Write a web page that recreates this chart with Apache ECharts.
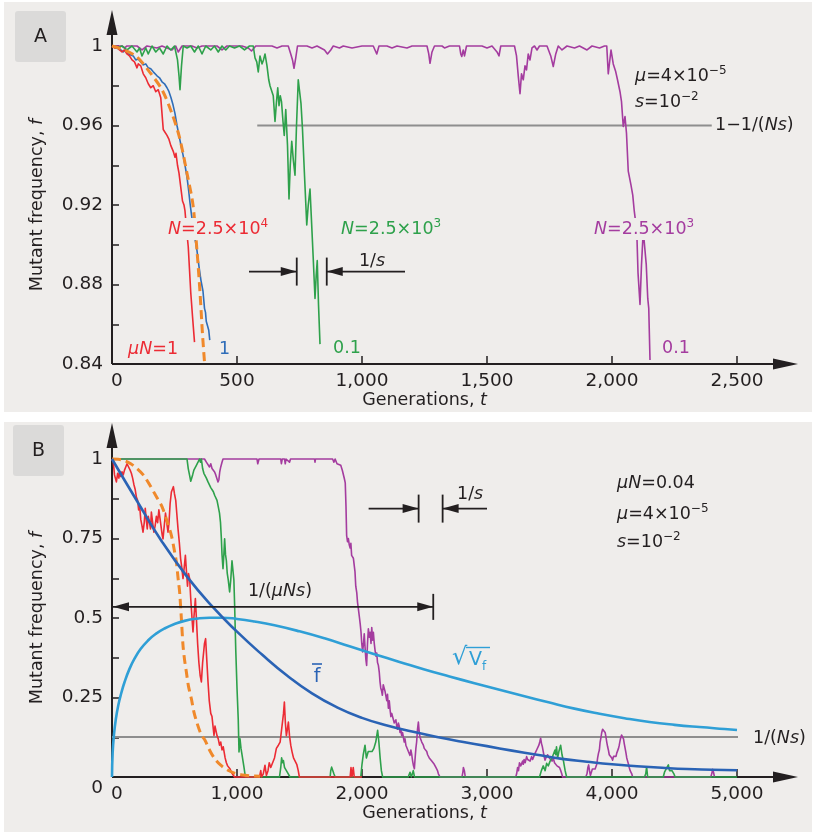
<!DOCTYPE html>
<html>
<head>
<meta charset="utf-8">
<script src="https://cdn.jsdelivr.net/npm/echarts@6/dist/echarts.min.js"></script>
<style>
  html, body { margin: 0; padding: 0; background: #ffffff; }
  #chart { width: 814px; height: 834px; }
</style>
</head>
<body>
<div id="chart"></div>
<script>
// ---------- Panel A: sweeps near fixation (f close to 1) ----------
const xLabelsA = ['0', '500', '1,000', '1,500', '2,000', '2,500'];
const yLabelsA = ['0.84', '0.88', '0.92', '0.96', '1'];

// N = 2.5e4, muN = 1 (red)
const redA = [[0,1],[10,0.999],[20,0.9995],[30,0.998],[40,0.997],[50,0.998],[60,0.996],[70,0.995],[80,0.993],[90,0.992],[100,0.989],[105,0.991],[115,0.99],[125,0.986],[135,0.984],[145,0.981],[155,0.979],[165,0.98],[175,0.977],[185,0.978],[195,0.974],[200,0.966],[205,0.958],[210,0.957],[220,0.955],[228,0.953],[235,0.95],[240,0.951],[245,0.947],[252,0.944],[256,0.946],[262,0.94],[268,0.936],[275,0.929],[282,0.922],[288,0.92],[292,0.917],[298,0.908],[305,0.899],[315,0.876],[322,0.864],[330,0.851]];
// muN = 1 (blue)
const blueA = [[0,1],[15,0.999],[30,0.9985],[45,0.997],[55,0.998],[65,0.996],[75,0.9955],[85,0.995],[95,0.993],[105,0.9935],[115,0.992],[125,0.9905],[135,0.991],[145,0.989],[155,0.9885],[165,0.987],[172,0.9875],[180,0.985],[190,0.984],[200,0.982],[210,0.981],[220,0.979],[228,0.977],[236,0.974],[244,0.9704],[252,0.966],[260,0.96],[268,0.955],[276,0.95],[284,0.9452],[292,0.94],[300,0.934],[306,0.928],[312,0.921],[318,0.915],[325,0.909],[332,0.903],[340,0.897],[348,0.889],[356,0.882],[364,0.8766],[370,0.868],[374,0.866],[377,0.8615],[382,0.862],[387,0.857],[391,0.852]];
// deterministic curve (orange, dashed)
const orangeA = [[0,1],[50,0.998],[100,0.9945],[150,0.987],[200,0.978],[240,0.966],[270,0.954],[300,0.936],[324,0.92],[340,0.897],[352,0.876],[362,0.855],[370,0.841]];
// N = 2.5e3, muN = 0.1 (green)
const greenA = [[0,1],[20,0.999],[40,1],[60,0.998],[80,1],[100,0.997],[110,0.999],[120,0.995],[135,0.999],[145,0.996],[160,1],[175,0.997],[190,0.999],[205,0.996],[220,1],[235,0.998],[250,1],[262,0.993],[268,0.985],[272,0.978],[278,0.99],[285,1],[300,0.999],[315,1],[330,0.997],[345,1],[360,0.996],[375,1],[395,0.998],[410,1],[425,0.997],[440,1],[455,0.998],[470,1],[490,0.999],[510,1],[530,0.998],[550,1],[565,1],[572,0.994],[579,0.992],[585,0.987],[592,0.995],[600,0.991],[606,0.993],[612,0.996],[620,0.99],[627,0.983],[632,0.98],[640,0.979],[645,0.975],[652,0.962],[658,0.972],[663,0.979],[668,0.97],[673,0.975],[678,0.972],[684,0.962],[689,0.955],[695,0.968],[702,0.95],[708,0.923],[713,0.94],[719,0.952],[725,0.943],[732,0.935],[738,0.96],[745,0.983],[750,0.983],[756,0.971],[762,0.958],[770,0.935],[779,0.91],[785,0.92],[792,0.928],[798,0.912],[805,0.893],[812,0.873],[817,0.885],[821,0.892],[826,0.87],[832,0.85]];
// N = 2.5e3, muN = 0.1 (magenta)
const magentaA = [[0,1],[40,1],[50,0.999],[60,1],[100,1],[120,0.998],[140,1],[180,0.999],[200,1],[240,0.998],[255,1],[265,0.997],[272,0.996],[280,1],[320,1],[340,0.999],[360,1],[420,1],[440,0.998],[460,1],[520,1],[545,0.999],[558,0.9975],[565,0.998],[575,1],[640,1],[660,0.999],[680,1],[705,1],[715,0.996],[722,0.993],[728,0.9888],[735,0.994],[742,1],[780,1],[800,0.999],[820,1],[850,0.998],[862,0.996],[869,0.9955],[875,0.998],[885,1],[910,0.999],[925,1],[960,0.999],[1000,1],[1045,1],[1052,0.998],[1059,0.996],[1068,1],[1100,1],[1120,0.999],[1140,1],[1180,0.999],[1200,1],[1260,1],[1267,0.996],[1272,0.9913],[1280,0.997],[1290,1],[1320,1],[1330,0.999],[1350,1],[1390,1],[1395,0.996],[1399,0.9947],[1405,0.998],[1410,0.995],[1418,1],[1480,1],[1500,0.999],[1520,1],[1540,0.997],[1548,0.995],[1555,1],[1610,1],[1618,0.995],[1625,0.985],[1632,0.976],[1638,0.986],[1645,0.983],[1652,0.99],[1658,0.988],[1665,0.996],[1672,0.993],[1680,0.999],[1690,1],[1700,0.998],[1710,1],[1740,1],[1755,0.995],[1765,0.9897],[1775,0.996],[1785,1],[1800,0.998],[1820,1],[1850,0.999],[1870,1],[1900,0.998],[1920,1],[1950,0.999],[1970,1],[1979,1],[1985,0.986],[1996,0.998],[2005,0.991],[2015,0.987],[2022,0.983],[2032,0.977],[2038,0.972],[2045,0.9595],[2052,0.9645],[2058,0.956],[2065,0.937],[2070,0.938],[2076,0.93],[2083,0.925],[2089,0.917],[2094,0.912],[2099,0.907],[2104,0.886],[2112,0.87],[2118,0.89],[2125,0.907],[2132,0.907],[2137,0.89],[2143,0.873],[2147,0.868],[2152,0.842]];
// 1 - 1/(Ns) level
const fixLineA = [[581,0.96],[2399,0.96]];

// ---------- Panel B: full sweeps, mean and spread ----------
const xLabelsB = ['0', '1,000', '2,000', '3,000', '4,000', '5,000'];
const yLabelsB = ['0', '0.25', '0.5', '0.75', '1'];

const redB = [[0,1],[10,0.99],[20,0.95],[35,0.928],[45,0.955],[55,0.94],[61,0.959],[70,0.945],[80,0.96],[90,0.95],[100,0.965],[110,0.975],[120,0.985],[128,0.991],[135,0.985],[145,0.965],[155,0.955],[165,0.94],[175,0.92],[185,0.905],[195,0.88],[205,0.87],[213,0.84],[221,0.854],[230,0.81],[240,0.79],[248,0.77],[258,0.8],[266,0.845],[274,0.81],[282,0.78],[290,0.82],[300,0.8],[308,0.78],[315,0.833],[325,0.8],[335,0.77],[345,0.79],[355,0.82],[365,0.8],[375,0.84],[385,0.81],[395,0.78],[402,0.76],[408,0.749],[418,0.79],[428,0.83],[438,0.8],[448,0.77],[456,0.8],[465,0.86],[475,0.896],[483,0.89],[491,0.913],[500,0.89],[510,0.87],[518,0.83],[528,0.781],[538,0.74],[549,0.686],[558,0.66],[568,0.624],[578,0.66],[587,0.697],[595,0.65],[604,0.6],[612,0.64],[621,0.624],[630,0.56],[640,0.5],[648,0.456],[655,0.5],[667,0.561],[675,0.5],[685,0.42],[695,0.36],[705,0.32],[715,0.299],[725,0.36],[740,0.42],[749,0.435],[758,0.37],[768,0.3],[778,0.24],[790,0.2],[800,0.19],[808,0.16],[816,0.131],[824,0.16],[832,0.145],[840,0.13],[850,0.12],[860,0.1],[870,0.11],[880,0.085],[890,0.095],[896,0.089],[905,0.06],[915,0.045],[925,0.035],[935,0.03],[945,0.025],[955,0.015],[968,0.01],[980,0],[1180,0],[1190,0.02],[1197,0],[1210,0.01],[1224,0.037],[1235,0.005],[1248,0.02],[1258,0.045],[1270,0.03],[1285,0.045],[1300,0.06],[1315,0.09],[1331,0.1],[1345,0.11],[1360,0.16],[1372,0.2],[1379,0.236],[1387,0.17],[1395,0.13],[1403,0.15],[1411,0.173],[1420,0.13],[1430,0.1],[1440,0.08],[1452,0.06],[1465,0.05],[1478,0.04],[1490,0.02],[1499,0],[1905,0],[1912,0.03],[1920,0],[1930,0.03],[1938,0],[2000,0]];
const orangeB = [[0,1],[50,0.999],[100,0.995],[150,0.985],[200,0.97],[250,0.95],[300,0.92],[350,0.885],[400,0.85],[440,0.805],[475,0.76],[500,0.71],[515,0.676],[530,0.62],[541,0.582],[555,0.498],[568,0.414],[580,0.37],[595,0.33],[612,0.285],[635,0.246],[655,0.205],[680,0.17],[712,0.135],[745,0.115],[780,0.085],[821,0.058],[870,0.037],[928,0.021],[980,0.012],[1035,0.007],[1100,0.004],[1185,0.002]];
const greenB = [[0,1],[400,1],[415,0.995],[425,1],[600,1],[610,0.97],[620,0.95],[630,0.93],[637,0.929],[645,0.95],[655,0.965],[665,0.96],[675,0.98],[688,0.99],[700,1],[708,0.99],[715,1],[725,0.97],[735,0.955],[745,0.96],[755,0.94],[768,0.928],[780,0.93],[790,0.91],[800,0.915],[811,0.897],[821,0.886],[830,0.88],[840,0.87],[850,0.85],[860,0.83],[868,0.8],[875,0.749],[880,0.7],[888,0.655],[895,0.7],[901,0.749],[908,0.7],[915,0.68],[922,0.64],[930,0.62],[941,0.582],[950,0.62],[960,0.68],[968,0.686],[975,0.62],[981,0.54],[990,0.4],[1000,0.28],[1010,0.18],[1016,0.079],[1024,0.12],[1032,0.09],[1040,0.07],[1048,0.068],[1056,0.03],[1067,0],[1340,0],[1350,0.03],[1357,0.06],[1365,0.045],[1371,0.052],[1380,0.03],[1395,0.02],[1410,0.01],[1424,0],[1745,0],[1750,0.02],[1757,0.031],[1765,0.03],[1775,0.01],[1785,0],[1990,0],[2000,0.04],[2010,0.07],[2024,0.1],[2035,0.06],[2050,0.08],[2065,0.075],[2080,0.08],[2095,0.09],[2110,0.11],[2125,0.147],[2135,0.11],[2145,0.06],[2155,0.02],[2165,0],[2370,0],[2384,0.015],[2395,0],[2410,0.02],[2420,0],[3420,0],[3435,0.02],[3450,0.035],[3465,0.02],[3477,0.043],[3490,0.035],[3505,0.05],[3520,0.06],[3535,0.065],[3544,0.085],[3550,0.07],[3556,0.095],[3565,0.06],[3575,0.08],[3589,0.1],[3600,0.07],[3612,0.05],[3625,0.02],[3637,0],[4260,0],[4270,0.01],[4277,0.032],[4285,0],[4410,0],[4420,0.015],[4430,0.02],[4440,0.03],[4451,0.038],[4460,0.02],[4470,0.025],[4480,0.02],[4495,0.01],[4505,0],[5000,0]];
const magentaB = [[0,1],[740,1],[755,0.99],[768,0.985],[780,0.975],[790,0.985],[800,0.97],[812,0.965],[821,0.959],[830,0.95],[840,0.945],[848,0.928],[855,0.935],[862,0.96],[870,0.975],[880,0.99],[888,1],[1160,1],[1166,0.985],[1171,0.98],[1176,1],[1350,1],[1355,0.985],[1362,1],[1380,1],[1386,0.985],[1392,1],[1420,0.99],[1428,1],[1620,1],[1624,0.99],[1628,1],[1765,1],[1775,0.99],[1785,1],[1800,0.985],[1815,0.99],[1830,0.98],[1843,0.964],[1852,0.97],[1859,0.938],[1866,0.925],[1872,0.85],[1877,0.76],[1884,0.74],[1891,0.75],[1898,0.73],[1905,0.72],[1911,0.735],[1917,0.697],[1924,0.7],[1931,0.688],[1938,0.665],[1944,0.645],[1950,0.6],[1958,0.58],[1964,0.55],[1971,0.529],[1980,0.5],[1986,0.48],[1992,0.456],[1998,0.42],[2005,0.393],[2012,0.42],[2018,0.45],[2024,0.41],[2031,0.37],[2037,0.351],[2044,0.42],[2051,0.466],[2058,0.44],[2065,0.455],[2072,0.42],[2078,0.47],[2085,0.43],[2091,0.455],[2098,0.42],[2104,0.4],[2111,0.38],[2118,0.39],[2124,0.36],[2131,0.351],[2138,0.33],[2144,0.3],[2150,0.28],[2157,0.27],[2163,0.257],[2170,0.29],[2177,0.28],[2184,0.27],[2191,0.255],[2198,0.24],[2204,0.26],[2211,0.216],[2218,0.24],[2225,0.21],[2231,0.19],[2238,0.2],[2244,0.205],[2251,0.194],[2258,0.17],[2264,0.164],[2271,0.18],[2278,0.16],[2284,0.15],[2291,0.17],[2298,0.16],[2304,0.14],[2311,0.15],[2317,0.131],[2324,0.14],[2331,0.125],[2338,0.11],[2344,0.12],[2351,0.1],[2357,0.095],[2364,0.1],[2371,0.08],[2377,0.075],[2384,0.068],[2391,0.085],[2398,0.07],[2405,0.05],[2412,0.035],[2419,0.026],[2425,0.06],[2431,0.09],[2437,0.11],[2444,0.15],[2451,0.173],[2458,0.14],[2464,0.125],[2471,0.13],[2478,0.11],[2484,0.115],[2491,0.1],[2498,0.09],[2505,0.085],[2511,0.09],[2518,0.08],[2525,0.07],[2531,0.075],[2538,0.06],[2545,0.065],[2552,0.055],[2558,0.05],[2565,0.045],[2571,0.05],[2578,0.04],[2585,0.035],[2591,0.03],[2597,0.026],[2604,0.02],[2611,0.01],[2618,0.005],[2624,0],[2800,0],[2807,0.015],[2811,0.03],[2819,0.02],[2826,0],[3230,0],[3237,0.01],[3245,0.03],[3252,0.02],[3260,0.045],[3270,0.035],[3277,0.038],[3285,0.05],[3290,0.04],[3297,0.055],[3305,0.045],[3317,0.064],[3325,0.055],[3335,0.06],[3345,0.05],[3357,0.064],[3365,0.055],[3375,0.06],[3385,0.075],[3397,0.085],[3405,0.09],[3415,0.1],[3422,0.11],[3429,0.122],[3436,0.105],[3443,0.095],[3450,0.08],[3457,0.065],[3464,0.053],[3471,0.06],[3478,0.065],[3485,0.07],[3491,0.074],[3498,0.06],[3505,0.055],[3512,0.065],[3520,0.05],[3530,0.06],[3540,0.045],[3550,0.04],[3560,0.035],[3570,0.04],[3580,0.03],[3590,0.02],[3598,0.01],[3605,0],[3790,0],[3800,0.01],[3807,0.03],[3813,0.038],[3820,0.02],[3827,0.005],[3835,0.015],[3843,0.025],[3850,0.02],[3858,0.03],[3865,0.025],[3872,0.02],[3878,0.04],[3885,0.06],[3892,0.075],[3899,0.085],[3905,0.11],[3912,0.125],[3918,0.14],[3925,0.15],[3931,0.153],[3938,0.15],[3945,0.14],[3952,0.125],[3958,0.11],[3965,0.095],[3971,0.085],[3978,0.07],[3985,0.065],[3991,0.07],[3998,0.06],[4005,0.053],[4012,0.065],[4018,0.06],[4025,0.07],[4032,0.065],[4038,0.075],[4045,0.08],[4052,0.09],[4058,0.1],[4065,0.115],[4071,0.125],[4077,0.132],[4085,0.137],[4092,0.12],[4098,0.105],[4105,0.09],[4112,0.075],[4118,0.06],[4125,0.05],[4132,0.04],[4138,0.03],[4145,0.02],[4152,0.015],[4158,0.01],[4165,0],[4790,0],[4798,0.01],[4805,0.024],[4812,0.015],[4820,0]];
// mean mutant frequency f-bar (dark blue)
const meanB = [[0,1],[200,0.868],[400,0.74],[600,0.63],[800,0.537],[1000,0.457],[1200,0.385],[1400,0.319],[1600,0.263],[1800,0.219],[2000,0.186],[2200,0.162],[2400,0.143],[2600,0.126],[2800,0.111],[3000,0.097],[3200,0.083],[3400,0.07],[3600,0.057],[3800,0.048],[4000,0.04],[4200,0.034],[4400,0.029],[4600,0.025],[4800,0.023],[5000,0.021]];
// standard deviation sqrt(V_f) (light blue)
const sdB = [[0,0],[5,0.075],[15,0.13],[30,0.18],[50,0.225],[75,0.265],[100,0.298],[140,0.34],[180,0.372],[230,0.403],[290,0.43],[350,0.45],[420,0.467],[500,0.481],[580,0.491],[680,0.498],[780,0.501],[880,0.501],[1000,0.497],[1140,0.489],[1300,0.477],[1500,0.458],[1700,0.436],[1900,0.411],[2100,0.386],[2300,0.362],[2500,0.338],[2700,0.316],[2900,0.295],[3100,0.274],[3300,0.254],[3500,0.234],[3700,0.215],[3900,0.199],[4100,0.185],[4300,0.173],[4500,0.164],[4700,0.157],[4900,0.151],[5000,0.148]];
// 1/(Ns) level
const nsLineB = [[0,0.126],[5050,0.126]];

// ---------- styling ----------
const FONT = "'DejaVu Sans', 'Noto Sans', sans-serif";
const INK = '#231f20';
const PANEL = '#efedeb';
const TAG = '#dbdad9';
const FS = 17.5;       // annotation text size
const C = {
  red: '#ec2b34', blue: '#2f6db8', orange: '#f0892b', green: '#2ea14b',
  magenta: '#a43c9f', mean: '#2a63b5', sd: '#2f9fd6', grey: '#8e8e8e'
};

const chart = echarts.init(document.getElementById('chart'), null, { renderer: 'canvas' });

function trace(data, color, grid, width, extra) {
  return Object.assign({
    type: 'line', data, xAxisIndex: grid, yAxisIndex: grid,
    symbol: 'none', showSymbol: false, clip: false, silent: true, animation: false,
    lineStyle: { color, width, join: 'round' }
  }, extra || {});
}

const thousands = v => Math.round(v).toLocaleString('en-US');
const tickText = { color: INK, fontSize: 18.5, fontFamily: FONT };
const nameRich = {
  n: { fontSize: 17.5, fontFamily: FONT, color: INK },
  i: { fontSize: 17.5, fontFamily: FONT, color: INK, fontStyle: 'italic' }
};

function xAxisFor(grid, max, interval, labels) {
  return {
    gridIndex: grid, type: 'value', min: 0, max, interval,
    axisLine: { show: false },
    axisTick: { inside: true, length: 8, lineStyle: { color: INK, width: 1.5 } },
    axisLabel: Object.assign({
      margin: 8,
      formatter: v => {
        const s = thousands(v);
        if (!labels.includes(s)) return '';
        return s === '0' ? '{z|0}' : s;
      },
      rich: { z: Object.assign({ padding: [0, 0, 0, 10] }, tickText) }
    }, tickText),
    splitLine: { show: false },
    name: '{n|Generations, }{i|t}',
    nameLocation: 'middle', nameGap: 24,
    nameTextStyle: { rich: nameRich }
  };
}

function yAxisFor(grid, min, interval, labels, lowShift) {
  return {
    gridIndex: grid, type: 'value', min, max: 1, interval,
    axisLine: { show: false },
    axisTick: { inside: true, length: 7, lineStyle: { color: INK, width: 1.5 } },
    axisLabel: Object.assign({
      margin: 9,
      formatter: v => {
        const s = String(+v.toFixed(3));
        if (!labels.includes(s)) return '';
        return (lowShift && s === '0') ? '{low|0}' : s;
      },
      rich: { low: Object.assign({ padding: [22, 0, 0, 0] }, tickText) }
    }, tickText),
    splitLine: { show: false },
    name: '{n|Mutant frequency, }{i|f}',
    nameLocation: 'middle', nameGap: 66,
    nameTextStyle: { rich: nameRich }
  };
}

chart.setOption({
  animation: false,
  backgroundColor: '#ffffff',
  grid: [
    { left: 112, top: 46, width: 625, height: 318 },
    { left: 112, top: 459, width: 625, height: 318 }
  ],
  xAxis: [xAxisFor(0, 2500, 500, xLabelsA), xAxisFor(1, 5000, 1000, xLabelsB)],
  yAxis: [yAxisFor(0, 0.84, 0.02, yLabelsA, false), yAxisFor(1, 0, 0.125, yLabelsB, true)],
  series: [
    trace(fixLineA, C.grey, 0, 2),
    trace(magentaA, C.magenta, 0, 1.6),
    trace(greenA, C.green, 0, 1.6),
    trace(blueA, C.blue, 0, 1.6),
    trace(redA, C.red, 0, 1.6),
    trace(orangeA, C.orange, 0, 3, { smooth: 0.3, lineStyle: { color: C.orange, width: 3, type: [9, 5] } }),

    trace(nsLineB, C.grey, 1, 2),
    trace(magentaB, C.magenta, 1, 1.6),
    trace(greenB, C.green, 1, 1.6),
    trace(redB, C.red, 1, 1.6),
    trace(orangeB, C.orange, 1, 3, { smooth: 0.3, lineStyle: { color: C.orange, width: 3, type: [9, 5] } }),
    trace(sdB, C.sd, 1, 2.6, { smooth: 0.5 }),
    trace(meanB, C.mean, 1, 2.6, { smooth: 0.5 })
  ]
});

// ---------- axes with arrow heads, annotations and labels ----------
const P = (g, t, f) => chart.convertToPixel({ gridIndex: g }, [t, f]);

const RICH = {
  n: { fontSize: FS, fontFamily: FONT, lineHeight: 22 },
  i: { fontSize: FS, fontFamily: FONT, fontStyle: 'italic', lineHeight: 22 },
  sup: { fontSize: 12, fontFamily: FONT, verticalAlign: 'top', lineHeight: 12 },
  sub: { fontSize: 12, fontFamily: FONT, verticalAlign: 'bottom', lineHeight: 12 }
};

function text(x, y, str, fill, extraStyle) {
  return {
    type: 'text', z: 20, silent: true,
    style: Object.assign({
      x, y, text: str, fill: fill || INK, align: 'left', verticalAlign: 'middle',
      fontSize: FS, fontFamily: FONT, rich: RICH
    }, extraStyle || {})
  };
}
function boxed(x, y, str, fill) {
  return text(x, y, str, fill, { backgroundColor: PANEL, padding: [0, 2, 0, 2] });
}
function seg(x1, y1, x2, y2, width, color, z) {
  return { type: 'line', z: z || 20, silent: true, shape: { x1, y1, x2, y2 },
           style: { stroke: color || INK, lineWidth: width || 1.8 } };
}
// triangular head with its tip at (x, y); dir = 'right' | 'left' | 'up'
function head(x, y, dir, len, hw, z) {
  let pts;
  if (dir === 'right') pts = [[x, y], [x - len, y - hw], [x - len, y + hw]];
  else if (dir === 'left') pts = [[x, y], [x + len, y - hw], [x + len, y + hw]];
  else pts = [[x, y], [x - hw, y + len], [x + hw, y + len]];
  return { type: 'polygon', z: z || 20, silent: true, shape: { points: pts }, style: { fill: INK } };
}

function frame(g, xMax, yMin) {
  const o = P(g, 0, yMin), xe = P(g, xMax, yMin), ye = P(g, 0, 1);
  const xTip = xe[0] + 61, yTip = ye[1] - 36;
  return [
    seg(o[0], o[1], xTip - 10, o[1], 2, INK, 1),
    seg(o[0], o[1], o[0], yTip + 10, 2, INK, 1),
    head(xTip, o[1], 'right', 25, 5.5, 1),
    head(o[0], yTip, 'up', 25, 5.5, 1)
  ];
}

// measuring bar: horizontal arrow into a vertical stop
function stop(g, t, f, half) {
  const p = P(g, t, f);
  return seg(p[0], p[1] - half, p[0], p[1] + half, 1.8);
}
function arrowTo(g, tFrom, tTo, f, dir) {
  const a = P(g, tFrom, f), b = P(g, tTo, f);
  return [seg(a[0], a[1], b[0], b[1], 1.8), head(b[0], b[1], dir, 16, 4.5)];
}

function overlay() {
  const el = [];
  // panel backgrounds and tags
  el.push({ type: 'rect', z: -100, silent: true, shape: { x: 4, y: 2, width: 808, height: 410 }, style: { fill: PANEL } });
  el.push({ type: 'rect', z: -100, silent: true, shape: { x: 4, y: 422, width: 808, height: 410 }, style: { fill: PANEL } });
  el.push({ type: 'rect', z: -90, silent: true, shape: { x: 15, y: 11, width: 51, height: 51, r: 3 }, style: { fill: TAG } });
  el.push({ type: 'rect', z: -90, silent: true, shape: { x: 13, y: 425, width: 51, height: 51, r: 3 }, style: { fill: TAG } });
  el.push(text(40.5, 37, 'A', INK, { align: 'center', fontSize: 19, rich: null }));
  el.push(text(38.5, 451, 'B', INK, { align: 'center', fontSize: 19, rich: null }));

  el.push(...frame(0, 2500, 0.84));
  el.push(...frame(1, 5000, 0));

  // Panel A: 1/s bracket
  el.push(...arrowTo(0, 548, 739, 0.8865, 'right'));
  el.push(stop(0, 739, 0.8865, 14));
  el.push(stop(0, 859, 0.8865, 14));
  el.push(...arrowTo(0, 1172, 859, 0.8865, 'left'));
  el.push(text(372, 261, '{n|1/}{i|s}', INK, { align: 'center' }));

  // Panel A labels
  el.push(text(635, 76, '{i|μ}{n|=4×10}{sup|−5}'));
  el.push(text(635, 102, '{i|s}{n|=10}{sup|−2}'));
  el.push(text(715, 125, '{n|1−1/(}{i|Ns}{n|)}'));
  el.push(boxed(166, 229, '{i|N}{n|=2.5×10}{sup|4}', C.red));
  el.push(boxed(339, 229, '{i|N}{n|=2.5×10}{sup|3}', C.green));
  el.push(boxed(592, 229, '{i|N}{n|=2.5×10}{sup|3}', C.magenta));
  el.push(text(128, 349, '{i|μN}{n|=1}', C.red));
  el.push(text(219, 349, '{n|1}', C.blue));
  el.push(text(333, 348, '{n|0.1}', C.green));
  el.push(text(662, 348, '{n|0.1}', C.magenta));

  // Panel B: 1/(muNs) span
  const s0 = P(1, 0, 0.535), s1 = P(1, 2570, 0.535);
  el.push(seg(s0[0], s0[1], s1[0], s1[1], 1.8));
  el.push(head(s0[0] + 1, s0[1], 'left', 16, 4.5));
  el.push(head(s1[0], s1[1], 'right', 16, 4.5));
  el.push(stop(1, 2570, 0.535, 13));
  el.push(text(280, 591, '{n|1/(}{i|μNs}{n|)}', INK, { align: 'center' }));

  // Panel B: 1/s bracket
  el.push(...arrowTo(1, 2053, 2453, 0.844, 'right'));
  el.push(stop(1, 2453, 0.844, 14));
  el.push(stop(1, 2645, 0.844, 14));
  el.push(...arrowTo(1, 3000, 2645, 0.844, 'left'));
  el.push(text(457, 494, '{n|1/}{i|s}'));

  el.push(text(617, 483, '{i|μN}{n|=0.04}'));
  el.push(text(617, 514, '{i|μ}{n|=4×10}{sup|−5}'));
  el.push(text(617, 542, '{i|s}{n|=10}{sup|−2}'));
  el.push(text(753, 738, '{n|1/(}{i|Ns}{n|)}'));

  // f-bar label
  el.push(text(317, 677, 'f', C.mean, { align: 'center', fontSize: 19, rich: null }));
  el.push(seg(312, 664, 322, 664, 1.6, C.mean));
  // sqrt(V_f) label
  el.push(text(452, 658, '√', C.sd, { fontSize: 24, rich: null }));
  el.push(text(469, 660, 'V', C.sd, { fontSize: 19, rich: null }));
  el.push(text(482, 667, 'f', C.sd, { fontSize: 12, rich: null }));
  el.push(seg(466, 647.5, 490, 647.5, 1.4, C.sd));
  return el;
}

chart.setOption({ graphic: overlay() });
</script>
</body>
</html>
